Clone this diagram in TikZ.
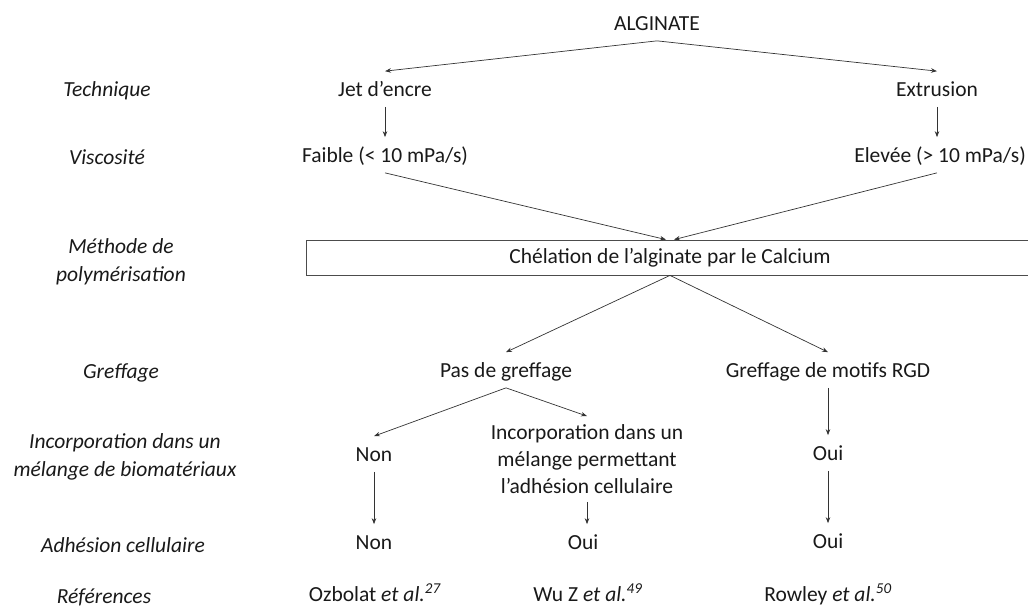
\documentclass[tikz,border=0pt]{standalone}
\usepackage{fontspec}
\setmainfont{Carlito}
\usetikzlibrary{arrows.meta, positioning}

\begin{document}
\begin{tikzpicture}[x=1pt, y=-1pt, ->, >={Stealth[length=6pt,width=4.5pt]}, draw=black!80, line width=0.7pt]
    \tikzstyle{lbl}=[font=\fontsize{21.5}{27}\selectfont, text=black!90, inner xsep=2pt]
    \tikzstyle{item}=[lbl, inner ysep=8pt, text height=17pt, text depth=2pt]
    \tikzstyle{row}=[lbl, font=\fontsize{21.5}{27.5}\selectfont\itshape, align=center]
    \tikzstyle{stage}=[lbl, draw=black!70, line width=0.8pt, minimum width=727pt, minimum height=35pt, inner sep=0pt]

    \useasboundingbox (0,0) rectangle (1028,608);

    % Row labels on the left
    \foreach \name/\x/\y/\txt in {tech/107/91/Technique, visc/107/157/Viscosité,
            poly/121/262/{Méthode de\\polymérisation}, gref/121/373/Greffage,
            incorp/125/457/{Incorporation dans un\\mélange de biomatériaux},
            adh/123/545/Adhésion cellulaire, ref/104/597/Références}
        \node[row] (R-\name) at (\x,\y) {\txt};

    % Technique and viscosity
    \node[item] (alg) at (657,23) {ALGINATE};
    \node[item] (jet) at (385,89) {Jet d’encre};
    \node[item] (ext) at (937,89) {Extrusion};
    \node[item] (faible) at (385,155) {Faible (< 10 mPa/s)};
    \node[item] (elev) at (940,155) {Elevée (> 10 mPa/s)};

    % Polymerisation box (runs off the right edge)
    \node[stage] (chel) at (670,257.5) {Chélation de l’alginate par le Calcium};

    % Grafting and blends
    \node[item] (pas) at (506,370) {Pas de greffage};
    \node[item] (rgd) at (828,370) {Greffage de motifs RGD};
    \node[item] (inc-non) at (374,454) {Non};
    \node[lbl, align=center, inner ysep=8pt] (inc-mix) at (587,459)
        {Incorporation dans un\\mélange permettant\\l’adhésion cellulaire};
    \node[item] (inc-oui) at (828,453) {Oui};

    % Cell adhesion
    \node[item] (adh-non) at (374,542) {Non};
    \node[item] (adh-mix) at (583,542) {Oui};
    \node[item] (adh-oui) at (828,541) {Oui};

    % References
    \node[item] (ref-1) at (375,594) {Ozbolat \textit{et al.}\textsuperscript{\textit{27}}};
    \node[item] (ref-2) at (588,594) {Wu Z \textit{et al.}\textsuperscript{\textit{49}}};
    \node[item] (ref-3) at (828,594) {Rowley \textit{et al.}\textsuperscript{\textit{50}}};

    % Connect the tree
    \draw (alg.south) -- (jet.north);
    \draw (alg.south) -- (ext.north);
    \draw (jet) -- (faible);
    \draw (ext) -- (ext |- elev.north);
    \draw (faible.south) -- ([xshift=-4pt]chel.north);
    \draw (ext |- elev.south) -- ([xshift=4pt]chel.north);

    \draw (chel.south) -- (pas.north);
    \draw (chel.south) -- (rgd.north);
    \draw (pas.south) -- (inc-non.north);
    \draw (pas.south) -- (inc-mix.north);
    \draw (rgd) -- (inc-oui);

    \draw (inc-non) -- (adh-non);
    \draw (inc-mix.south) -- (inc-mix.south |- adh-mix.north);
    \draw (inc-oui) -- (adh-oui);
\end{tikzpicture}
\end{document}
